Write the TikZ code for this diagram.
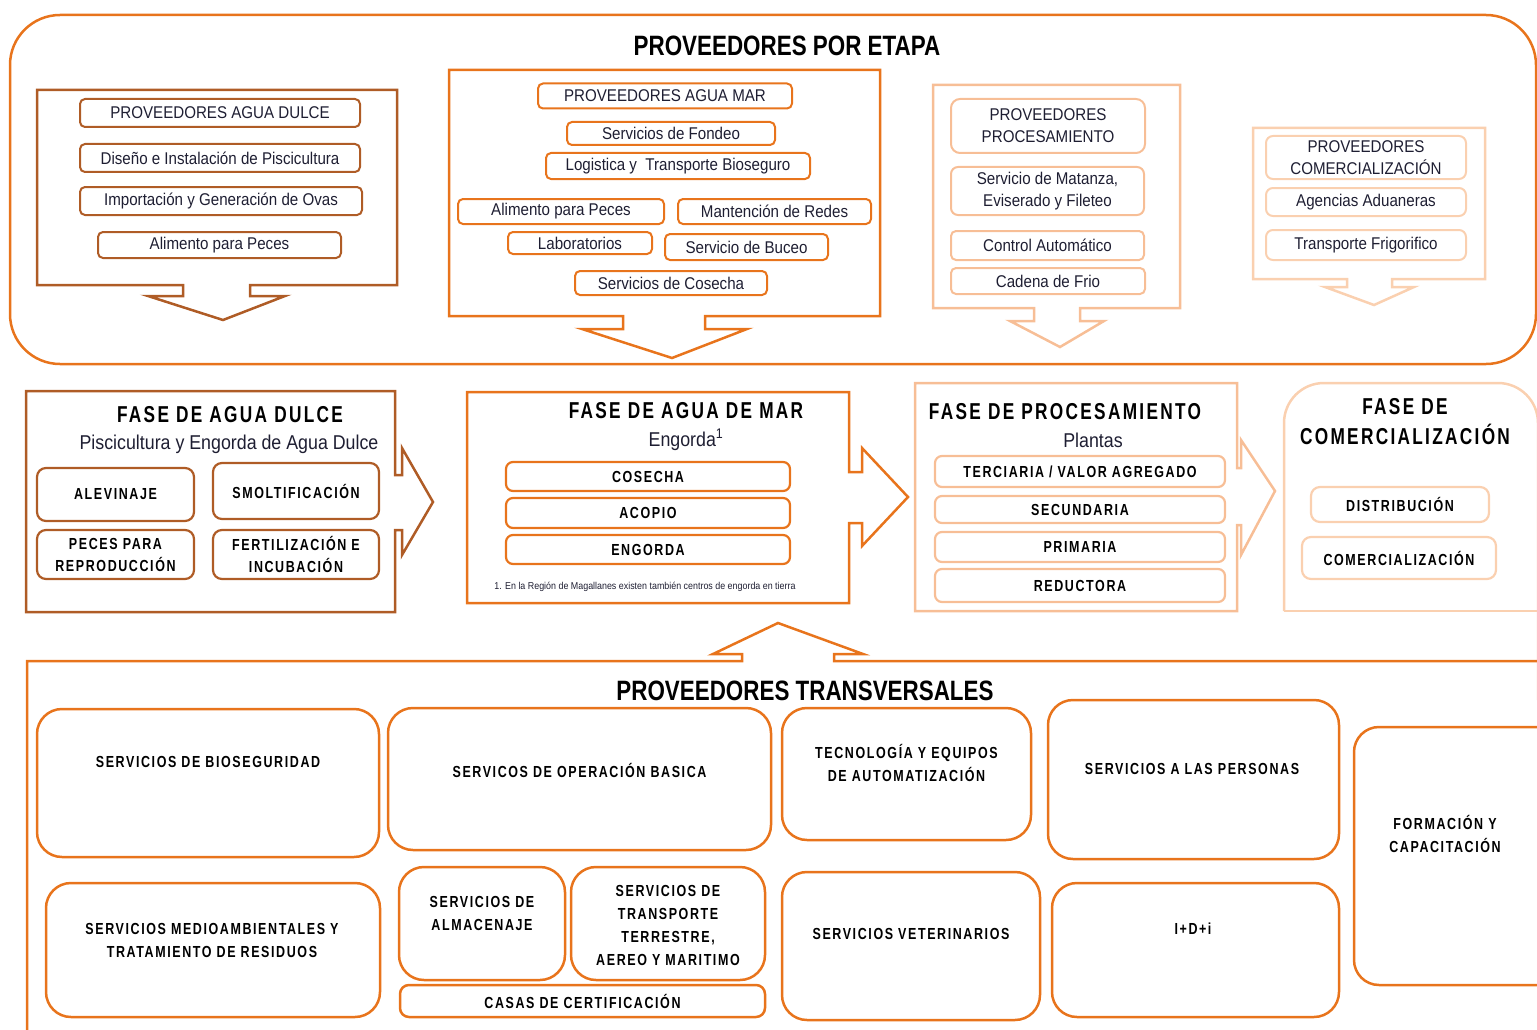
\documentclass[tikz,border=0pt]{standalone}
\usepackage{fontspec}
\setmainfont{Liberation Sans}
\newfontfamily\narrowfont[FakeStretch=0.89]{Liberation Sans}
\newfontfamily\titlefont[FakeStretch=0.8]{Liberation Sans}
\newfontfamily\spacedfont[FakeStretch=0.78,LetterSpace=10]{Liberation Sans}
\newfontfamily\phasefont[FakeStretch=0.75,LetterSpace=10]{Liberation Sans}
\definecolor{etapaBrown}{RGB}{175,92,38}
\definecolor{etapaOrange}{RGB}{232,116,28}
\definecolor{etapaLight}{RGB}{247,190,150}
\definecolor{etapaPale}{RGB}{250,208,176}
\definecolor{textNavy}{RGB}{30,30,50}

\begin{document}
\begin{tikzpicture}[
    x=1pt, y=-1pt,
    frame/.style={line width=2.5pt, line join=miter},
    pbox/.style={draw, rounded corners=5pt, line width=2pt, inner sep=0pt, align=center, text=textNavy, font=\narrowfont\fontsize{17}{22}\selectfont},
    fbox/.style={draw, rounded corners=9pt, line width=2.2pt, inner sep=0pt, align=center, font=\spacedfont\bfseries\fontsize{16}{22}\selectfont},
    tbox/.style={draw=etapaOrange, rounded corners=25pt, line width=2.5pt, inner sep=0pt},
    tlabel/.style={align=center, inner sep=0pt, font=\spacedfont\bfseries\fontsize{16}{23}\selectfont},
    bigtitle/.style={font=\titlefont\bfseries\fontsize{28}{30}\selectfont},
    phasetitle/.style={align=center, font=\phasefont\bfseries\fontsize{23}{30}\selectfont},
    subtitle/.style={text=textNavy, font=\narrowfont\fontsize{20}{24}\selectfont},
    sz/.style 2 args={minimum width=#1pt, minimum height=#2pt}
]
\useasboundingbox (0,0) rectangle (1537,1030);

% ---- Proveedores por etapa ----
\draw[etapaOrange, line width=2.5pt, rounded corners=50pt] (10,15) rectangle (1536,364);
\node[bigtitle] (etapa) at (787,46) {PROVEEDORES POR ETAPA};

% agua dulce
\draw[frame, etapaBrown] (37,285) -- (37,90) -- (397,90) -- (397,285) -- (250,285) -- (250,296) -- (285,296) -- (223,320) -- (148,296) -- (183,296) -- (183,285) -- cycle;
\node[pbox, draw=etapaBrown, sz={280}{28}] (pdulce) at (220,113) {PROVEEDORES AGUA DULCE};
\node[pbox, draw=etapaBrown, sz={280}{28}] (diseno) at (220,158) {Diseño e Instalación de Piscicultura};
\node[pbox, draw=etapaBrown, sz={282}{28}] (ovas)   at (221,201) {Importación y Generación de Ovas};
\node[pbox, draw=etapaBrown, sz={243}{26}] (alimd)  at (219.5,245) {Alimento para Peces};

% agua mar
\draw[frame, etapaOrange] (449,316) -- (449,70) -- (880,70) -- (880,316) -- (705,316) -- (705,329) -- (747,329) -- (672,358) -- (582,329) -- (623,329) -- (623,316) -- cycle;
\node[pbox, draw=etapaOrange, sz={254}{25}] (pmar)    at (665,96) {PROVEEDORES AGUA MAR};
\node[pbox, draw=etapaOrange, sz={208}{23}] (fondeo)  at (671,133.5) {Servicios de Fondeo};
\node[pbox, draw=etapaOrange, sz={264}{26}] (logist)  at (678,166) {Logistica y~ Transporte Bioseguro};
\node[pbox, draw=etapaOrange, sz={206}{25}] (alimm)   at (561,211.5) {Alimento para Peces};
\node[pbox, draw=etapaOrange, sz={193}{25}] (redes)   at (774.5,211.5) {Mantención de Redes};
\node[pbox, draw=etapaOrange, sz={144}{22}] (labs)    at (580,243) {Laboratorios};
\node[pbox, draw=etapaOrange, sz={163}{26}] (buceo)   at (746.5,247) {Servicio de Buceo};
\node[pbox, draw=etapaOrange, sz={192}{24}] (scosecha) at (671,283) {Servicios de Cosecha};

% procesamiento
\draw[frame, etapaLight] (933,308) -- (933,85) -- (1180,85) -- (1180,308) -- (1080,308) -- (1080,321) -- (1104,321) -- (1060,347) -- (1010,321) -- (1034,321) -- (1034,308) -- cycle;
\node[pbox, draw=etapaLight, rounded corners=9pt, sz={194}{54}] (pproc)   at (1048,126) {PROVEEDORES\\PROCESAMIENTO};
\node[pbox, draw=etapaLight, rounded corners=7pt, sz={193}{48}] (matanza) at (1047.5,191) {Servicio de Matanza,\\Eviserado y Fileteo};
\node[pbox, draw=etapaLight, sz={193}{29}] (control) at (1047.5,245.5) {Control Automático};
\node[pbox, draw=etapaLight, sz={194}{26}] (frio)    at (1048,281) {Cadena de Frio};

% comercializacion
\draw[frame, etapaPale] (1253,279) -- (1253,128) -- (1485,128) -- (1485,279) -- (1392,279) -- (1392,287) -- (1414,287) -- (1374,305) -- (1325,287) -- (1347,287) -- (1347,279) -- cycle;
\node[pbox, draw=etapaPale, rounded corners=7pt, sz={200}{43}] (pcomer)  at (1366,157.5) {PROVEEDORES\\COMERCIALIZACIÓN};
\node[pbox, draw=etapaPale, rounded corners=7pt, sz={200}{28}] (aduanas) at (1366,202) {Agencias Aduaneras};
\node[pbox, draw=etapaPale, rounded corners=7pt, sz={200}{30}] (frigo)   at (1366,245) {Transporte Frigorifico};

% ---- Fases ----
\draw[frame, etapaBrown] (26,391) -- (395,391) -- (395,475) -- (402,475) -- (402,448) -- (433,502) -- (402,555) -- (402,530) -- (395,530) -- (395,612) -- (26,612) -- cycle;
\node[phasetitle] (fdulce) at (230,415) {FASE DE AGUA DULCE};
\node[subtitle] (sdulce) at (229,444) {Piscicultura y Engorda de Agua Dulce};
\node[fbox, draw=etapaBrown, sz={157}{53}] (alevin) at (115.5,494.5) {ALEVINAJE};
\node[fbox, draw=etapaBrown, sz={166}{56}] (smolt)  at (296,491) {SMOLTIFICACIÓN};
\node[fbox, draw=etapaBrown, sz={157}{49}] (peces)  at (115.5,554.5) {PECES PARA\\REPRODUCCIÓN};
\node[fbox, draw=etapaBrown, sz={166}{49}] (fertil) at (296,554.5) {FERTILIZACIÓN E\\INCUBACIÓN};

\draw[frame, etapaOrange] (467,392) -- (849,392) -- (849,472) -- (862,472) -- (862,448) -- (908,497) -- (862,546) -- (862,523) -- (849,523) -- (849,603) -- (467,603) -- cycle;
\node[phasetitle] (fmar) at (686,411) {FASE DE AGUA DE MAR};
\node[subtitle] (smar) at (686,440) {Engorda\textsuperscript{1}};
\node[fbox, draw=etapaOrange, rounded corners=7pt, sz={284}{29}] (cosecha) at (648,476.5) {COSECHA};
\node[fbox, draw=etapaOrange, rounded corners=7pt, sz={284}{30}] (acopio)  at (648,513) {ACOPIO};
\node[fbox, draw=etapaOrange, rounded corners=7pt, sz={284}{29}] (engorda) at (648,549.5) {ENGORDA};
\node[font=\narrowfont\fontsize{10}{11}\selectfont, text=textNavy] (nota) at (645,587) {1. En la Región de Magallanes existen también centros de engorda en tierra};

\draw[frame, etapaLight] (915,383) -- (1237,383) -- (1237,468) -- (1241,468) -- (1241,440) -- (1275,491) -- (1241,555) -- (1241,525) -- (1237,525) -- (1237,611) -- (915,611) -- cycle;
\node[phasetitle] (fproc) at (1065,412) {FASE DE PROCESAMIENTO};
\node[subtitle] (sproc) at (1093,440) {Plantas};
\node[fbox, draw=etapaLight, rounded corners=7pt, sz={290}{31}] (terciaria)  at (1080,471.5) {TERCIARIA / VALOR AGREGADO};
\node[fbox, draw=etapaLight, rounded corners=7pt, sz={290}{27}] (secundaria) at (1080,509.5) {SECUNDARIA};
\node[fbox, draw=etapaLight, rounded corners=7pt, sz={290}{30}] (primaria)   at (1080,547) {PRIMARIA};
\node[fbox, draw=etapaLight, rounded corners=7pt, sz={290}{33}] (reductora)  at (1080,585.5) {REDUCTORA};

\draw[frame, etapaPale, rounded corners=40pt] (1284,611) -- (1284,383) -- (1538,383) -- (1538,700);
\draw[frame, etapaPale] (1284,611) -- (1538,611);
\node[phasetitle] (fcomer) at (1405,422) {FASE DE\\COMERCIALIZACIÓN};
\node[fbox, draw=etapaPale, sz={178}{35}] (distrib) at (1400,504.5) {DISTRIBUCIÓN};
\node[fbox, draw=etapaPale, sz={194}{42}] (comerc)  at (1399,558) {COMERCIALIZACIÓN};

% ---- Proveedores transversales ----
\draw[frame, etapaOrange] (27,1035) -- (27,661) -- (742,661) -- (742,654) -- (713,654) -- (778,623) -- (863,654) -- (834,654) -- (834,661) -- (1540,661);
\node[bigtitle] (transv) at (805,691) {PROVEEDORES TRANSVERSALES};

\node[tbox, sz={342}{148}] (bioseg) at (208,783) {};
\node[tlabel] at (208,762) {SERVICIOS DE BIOSEGURIDAD};
\node[tbox, sz={383}{142}] (operac) at (579.5,779) {};
\node[tlabel] at (579.5,770) {SERVICOS DE OPERACIÓN BASICA};
\node[tbox, sz={249}{132}] (tecno) at (906.5,774) {};
\node[tlabel] at (906.5,763) {TECNOLOGÍA Y EQUIPOS\\DE AUTOMATIZACIÓN};
\node[tbox, sz={291}{159}] (person) at (1193.5,779.5) {};
\node[tlabel] at (1192,769) {SERVICIOS A LAS PERSONAS};
\node[tbox, sz={210}{258}] (formac) at (1459,856) {};
\node[tlabel] at (1445,834) {FORMACIÓN Y\\CAPACITACIÓN};

\node[tbox, sz={334}{134}] (medio) at (213,950) {};
\node[tlabel] at (212,940) {SERVICIOS MEDIOAMBIENTALES Y\\TRATAMIENTO DE RESIDUOS};
\node[tbox, sz={166}{113}] (almac) at (482,923.5) {};
\node[tlabel] at (482,913) {SERVICIOS DE\\ALMACENAJE};
\node[tbox, sz={194}{113}] (transp) at (668,923.5) {};
\node[tlabel] at (668,925) {SERVICIOS DE\\TRANSPORTE\\TERRESTRE,\\AEREO Y MARITIMO};
\node[tbox, rounded corners=9pt, sz={365}{32}, tlabel] (certif) at (582.5,1001) {CASAS DE CERTIFICACIÓN};
\node[tbox, sz={258}{148}] (veter) at (911,946) {};
\node[tlabel] at (911,934) {SERVICIOS VETERINARIOS};
\node[tbox, sz={287}{134}] (idi) at (1195.5,950) {};
\node[tlabel] at (1193,929) {I+D+i};
\end{tikzpicture}
\end{document}
